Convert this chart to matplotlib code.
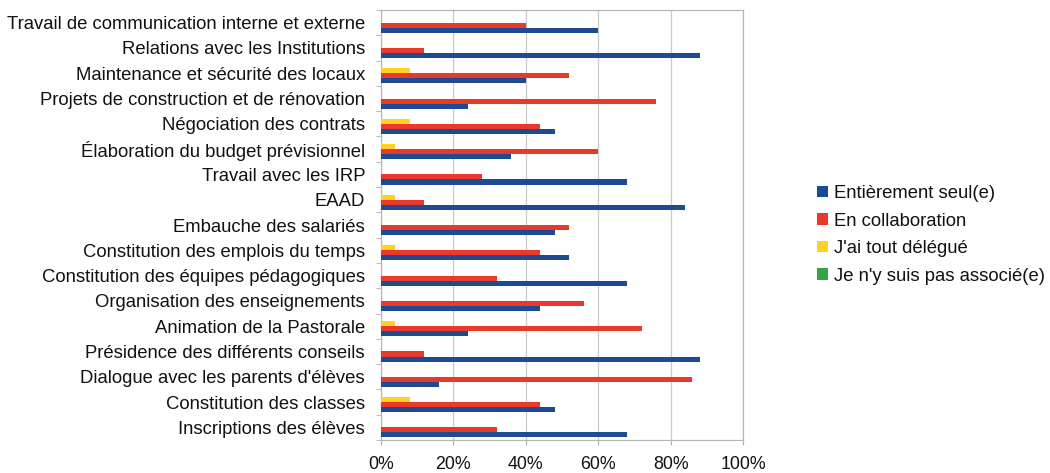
import matplotlib
matplotlib.use("Agg")
import matplotlib.pyplot as plt
import numpy as np
from matplotlib.ticker import FuncFormatter

plt.rcParams['font.family'] = ['Liberation Sans', 'DejaVu Sans']

categories = [
    "Inscriptions des élèves",
    "Constitution des classes",
    "Dialogue avec les parents d'élèves",
    "Présidence des différents conseils",
    "Animation de la Pastorale",
    "Organisation des enseignements",
    "Constitution des équipes pédagogiques",
    "Constitution des emplois du temps",
    "Embauche des salariés",
    "EAAD",
    "Travail avec les IRP",
    "Élaboration du budget prévisionnel",
    "Négociation des contrats",
    "Projets de construction et de rénovation",
    "Maintenance et sécurité des locaux",
    "Relations avec les Institutions",
    "Travail de communication interne et externe",
]

seul = [0.68, 0.48, 0.16, 0.88, 0.24, 0.44, 0.68, 0.52, 0.48, 0.84, 0.68, 0.36, 0.48, 0.24, 0.40, 0.88, 0.60]
collab = [0.32, 0.44, 0.86, 0.12, 0.72, 0.56, 0.32, 0.44, 0.52, 0.12, 0.28, 0.60, 0.44, 0.76, 0.52, 0.12, 0.40]
delegue = [0.0, 0.08, 0.0, 0.0, 0.04, 0.0, 0.0, 0.04, 0.0, 0.04, 0.0, 0.04, 0.08, 0.0, 0.08, 0.0, 0.0]
pas_associe = [0.0] * 17

series_names = ["Entièrement seul(e)", "En collaboration", "J'ai tout délégué", "Je n'y suis pas associé(e)"]
series_vals = [seul, collab, delegue, pas_associe]
colors = ["#1d4a93", "#e8392b", "#ffd21f", "#35a447"]

fig = plt.figure(figsize=(10.5, 4.73), dpi=100)
ax = fig.add_axes([381 / 1050, 1 - 440 / 473, (743 - 381) / 1050, (440 - 10) / 473])

y = np.arange(len(categories))
h = 0.2
offsets = [-0.3, -0.1, 0.1, 0.3]
handles = []
for vals, name, col, off in zip(series_vals, series_names, colors, offsets):
    b = ax.barh(y + off, vals, height=h, color=col, label=name, zorder=3)
    handles.append(b)

ax.set_xlim(0, 1)
ax.set_ylim(-0.5, len(categories) - 0.5)
ax.set_xticks(np.arange(0, 1.01, 0.2))
ax.xaxis.set_major_formatter(FuncFormatter(lambda v, p: f"{int(round(v * 100))}%"))
ax.set_yticks(y)
ax.set_yticklabels(categories)
ax.set_yticks(np.arange(-0.5, len(categories), 1), minor=True)
ax.tick_params(axis='y', which='major', length=0, pad=11.5, labelsize=13.3, labelcolor='#111111')
ax.tick_params(axis='y', which='minor', length=3.6, color='#b0b0b0', direction='out')
ax.tick_params(axis='x', which='major', length=3.6, color='#b0b0b0', labelsize=12.8, pad=8, labelcolor='#111111')
ax.grid(axis='x', color='#c8c8c8', linewidth=0.9, zorder=0)
for s in ax.spines.values():
    s.set_color('#b8b8b8')
    s.set_linewidth(0.9)

leg = fig.legend(handles=handles, labels=series_names, loc='upper left',
                 bbox_to_anchor=(817 / 1050, 1 - 185 / 473), frameon=False,
                 fontsize=13.3, handlelength=0.6, handleheight=0.6,
                 handletextpad=0.3, labelspacing=0.57, borderaxespad=0, borderpad=0)
for t in leg.get_texts():
    t.set_color('#111111')

fig.savefig("out.png", dpi=100)
